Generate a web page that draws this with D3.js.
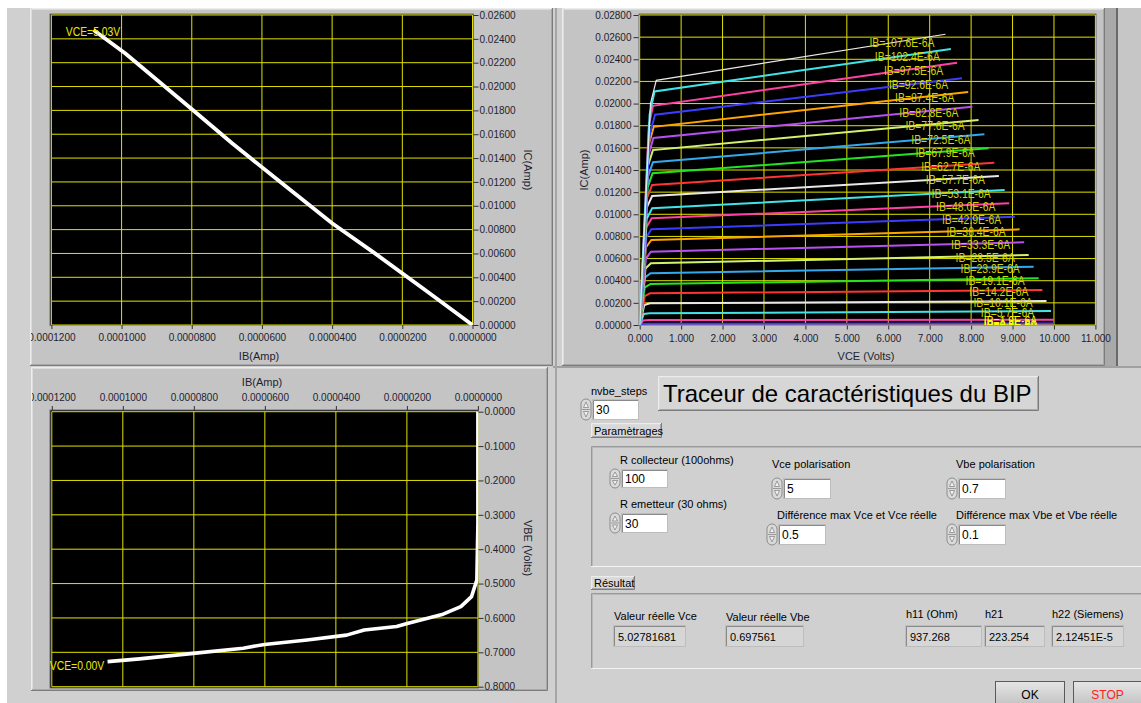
<!DOCTYPE html>
<html>
<head>
<meta charset="utf-8">
<title>Traceur de caractéristiques du BIP</title>
<script src="https://cdn.jsdelivr.net/npm/d3@7"></script>
<style>
  body { margin: 0; background: #ffffff; }
  svg text { font-family: "Liberation Sans", Arial, sans-serif; }
</style>
</head>
<body>
<svg id="panel" width="1141" height="703"></svg>
<script>
// IC = f(IB) at VCE = 5.03 V (top left graph)
const icIbIB = [0.000108, 0.0000990, 0.0000797, 0.0000685, 0.0000543, 0.0000400, 0.0000278, 0.0000135, 0];
const icIbIC = [0.02474, 0.02279, 0.01803, 0.01524, 0.01188, 0.00853, 0.00601, 0.00294, 0];

// VBE = f(IB) at VCE = 0.00 V (bottom left graph)
const vbeIB = [0.0001043, 0.0000953, 0.0000802, 0.0000661, 0.0000601, 0.0000481, 0.0000370, 0.0000320,
               0.0000229, 0.0000199, 0.0000098, 0.0000048, 0.0000018, 0.0000003, 0, 0];
const vbeV = [0.727, 0.719, 0.703, 0.688, 0.677, 0.664, 0.650, 0.635, 0.625, 0.616, 0.589, 0.567, 0.538, 0.490, 0.325, 0.0];

// IC = f(VCE) family, one curve per IB step (top right graph)
const ibLabels = ["107.6", "102.4", "97.5", "92.6", "87.4", "82.8", "77.6", "72.5", "67.9", "62.7", "57.7", "53.1",
                  "48.0", "42.9", "38.4", "33.3", "28.5", "23.9", "19.1", "14.2", "10.1", "5.7", "1.9", "0.6", "0.0"];
const riseVce = [0.26, 0.24, 0.22, 0.24, 0.22, 0.21, 0.20, 0.20, 0.19, 0.18, 0.17, 0.17, 0.16, 0.16, 0.15, 0.15,
                 0.14, 0.13, 0.12, 0.12, 0.11, 0.10, 0.08, 0.06, 0.05];
const riseIc = [0.0200, 0.0190, 0.0180, 0.0172, 0.0163, 0.0153, 0.0144, 0.0134, 0.0124, 0.0115, 0.0106, 0.0096,
                0.0088, 0.0079, 0.0070, 0.0060, 0.0051, 0.0043, 0.0034, 0.0026, 0.0018, 0.0010, 0.0004, 0.0001, 0.00002];
const kneeVce = [0.40, 0.36, 0.32, 0.37, 0.34, 0.33, 0.32, 0.32, 0.31, 0.30, 0.30, 0.30, 0.29, 0.28, 0.28, 0.27,
                 0.27, 0.26, 0.26, 0.25, 0.25, 0.24, 0.22, 0.20, 0.20];
const kneeIc = [0.0221, 0.0211, 0.0198, 0.0190, 0.0179, 0.0169, 0.0158, 0.0147, 0.0137, 0.01265, 0.01165, 0.01054,
                0.00964, 0.00864, 0.00768, 0.00662, 0.00557, 0.00467, 0.00370, 0.00286, 0.00196, 0.00106, 0.00045, 0.00012, 0.00003];
const endVce = [7.38, 7.51, 7.66, 7.78, 7.93, 8.03, 8.18, 8.32, 8.42, 8.56, 8.67, 8.81, 8.92, 9.06, 9.17, 9.28,
                9.39, 9.51, 9.63, 9.72, 9.82, 9.93, 10.0, 10.0, 10.0];
const endIc = [0.02626, 0.02493, 0.02369, 0.02228, 0.02105, 0.01972, 0.01852, 0.01722, 0.01596, 0.01466, 0.01346, 0.01219,
               0.01099, 0.00978, 0.00864, 0.00747, 0.00632, 0.00527, 0.00422, 0.00316, 0.00217, 0.00126, 0.00048, 0.00013, 0.00003];
const plotColors = ["#e8e8e8", "#40e4e8", "#ff40a4", "#3c3cff", "#ffa400", "#b850f0", "#d4f070", "#34a8ec", "#22e422", "#ff3434"];

// tick values
const ibTicks = [0.00012, 0.0001, 0.00008, 0.00006, 0.00004, 0.00002, 0];
const icTicksLeft = [0, 0.002, 0.004, 0.006, 0.008, 0.01, 0.012, 0.014, 0.016, 0.018, 0.02, 0.022, 0.024, 0.026];
const icTicksRight = [0, 0.002, 0.004, 0.006, 0.008, 0.01, 0.012, 0.014, 0.016, 0.018, 0.02, 0.022, 0.024, 0.026, 0.028];
const vceTicks = [0, 1, 2, 3, 4, 5, 6, 7, 8, 9, 10, 11];
const vbeTicks = [0, 0.1, 0.2, 0.3, 0.4, 0.5, 0.6, 0.7, 0.8];

const gridColor = "#e2e200";
const labelYellow = "#d4d400";

const svg = d3.select("#panel");
const defs = svg.append("defs");

// front panel background
svg.append("rect").attr("width", 1141).attr("height", 703).attr("fill", "#d0d0d0");
svg.append("rect").attr("width", 1141).attr("height", 8).attr("fill", "#ffffff");
svg.append("rect").attr("width", 7).attr("height", 703).attr("fill", "#ffffff");

function raised(g, x, y, w, h, fill) {
  g.append("rect").attr("x", x).attr("y", y).attr("width", w).attr("height", h).attr("fill", fill);
  g.append("path").attr("d", `M${x + 0.5},${y + h} V${y + 0.5} H${x + w}`).attr("fill", "none").attr("stroke", "#ececec");
  g.append("path").attr("d", `M${x + 1.5},${y + h - 1} V${y + 1.5} H${x + w - 1}`).attr("fill", "none").attr("stroke", "#dcdcdc");
  g.append("path").attr("d", `M${x},${y + h - 0.5} H${x + w - 0.5} V${y}`).attr("fill", "none").attr("stroke", "#7c7c7c");
  g.append("path").attr("d", `M${x + 1},${y + h - 1.5} H${x + w - 1.5} V${y + 1}`).attr("fill", "none").attr("stroke", "#a8a8a8");
}

function sunken(g, x, y, w, h, fill) {
  g.append("rect").attr("x", x).attr("y", y).attr("width", w).attr("height", h).attr("fill", fill);
  g.append("path").attr("d", `M${x + 0.5},${y + h} V${y + 0.5} H${x + w}`).attr("fill", "none").attr("stroke", "#9a9a9a");
  g.append("path").attr("d", `M${x + 1.5},${y + h - 1} V${y + 1.5} H${x + w - 1}`).attr("fill", "none").attr("stroke", "#b8b8b8");
  g.append("path").attr("d", `M${x},${y + h - 0.5} H${x + w - 0.5} V${y}`).attr("fill", "none").attr("stroke", "#f4f4f4");
}

function clipRect(id, x, y, w, h) {
  defs.append("clipPath").attr("id", id).append("rect")
      .attr("x", x).attr("y", y).attr("width", w).attr("height", h);
  return `url(#${id})`;
}

function styleAxis(g) {
  g.select(".domain").remove();
  g.selectAll(".tick line").attr("stroke", "#303030");
  g.selectAll(".tick text").attr("fill", "#1e1e30").style("font-size", "10px")
      .style("font-family", "\"Liberation Sans\", Arial, sans-serif");
}

function grid(g, xs, ys, xTicks, yTicks) {
  g.selectAll(null).data(xTicks).enter().append("line")
      .attr("x1", d => xs(d)).attr("x2", d => xs(d))
      .attr("y1", ys.range()[0]).attr("y2", ys.range()[1])
      .attr("stroke", gridColor).attr("stroke-width", 1);
  g.selectAll(null).data(yTicks).enter().append("line")
      .attr("y1", d => ys(d)).attr("y2", d => ys(d))
      .attr("x1", d3.min(xs.range())).attr("x2", d3.max(xs.range()))
      .attr("stroke", gridColor).attr("stroke-width", 1);
}

function plotLabel(g, x, y, text, color) {
  g.append("text").attr("transform", `translate(${x},${y}) scale(0.8,1)`)
      .attr("text-anchor", "middle").attr("dy", "0.36em")
      .style("font-size", "13px").attr("fill", color).text(text);
}

// ---------------- top left graph : IC(IB) ----------------
raised(svg, 30, 8, 523, 358, "#c4c4c4");
const tl = svg.append("g").attr("clip-path", clipRect("clipTL", 31, 9, 521, 356));
const xTL = d3.scaleLinear().domain([0.00012, 0]).range([51.4, 472.5]);
const yTL = d3.scaleLinear().domain([0, 0.026]).range([325, 15]);
tl.append("rect").attr("x", 50).attr("y", 14).attr("width", 423.5).attr("height", 311.5)
    .attr("fill", "#000").attr("stroke", "#6c6c6c");
grid(tl, xTL, yTL, ibTicks, icTicksLeft);
const plotTL = tl.append("g").attr("clip-path", clipRect("clipTLp", 50, 14, 423.5, 311.5));
plotTL.append("path")
    .datum(d3.zip(icIbIB, icIbIC))
    .attr("fill", "none").attr("stroke", "#ffffff").attr("stroke-width", 3.8).attr("stroke-linejoin", "round")
    .attr("d", d3.line().x(d => xTL(d[0])).y(d => yTL(d[1])));
plotLabel(plotTL, 93, 31, "VCE=5.03V", "#eaea00");
tl.append("g").attr("transform", "translate(0,325)")
    .call(d3.axisBottom(xTL).tickValues(ibTicks).tickFormat(d3.format(".7f")).tickSize(4).tickPadding(5))
    .call(styleAxis);
tl.append("g").attr("transform", "translate(473.5,0)")
    .call(d3.axisRight(yTL).tickValues(icTicksLeft).tickFormat(d3.format(".5f")).tickSize(5).tickPadding(1))
    .call(styleAxis);
tl.append("text").attr("x", 259).attr("y", 360).attr("text-anchor", "middle")
    .style("font-size", "11px").attr("fill", "#1e1e30").text("IB(Amp)");
tl.append("text").attr("transform", "translate(524,170) rotate(90)").attr("text-anchor", "middle")
    .style("font-size", "11px").attr("fill", "#1e1e30").text("IC(Amp)");

// ---------------- bottom left graph : VBE(IB) ----------------
raised(svg, 31, 367, 517, 324, "#c4c4c4");
const bl = svg.append("g").attr("clip-path", clipRect("clipBL", 32, 368, 515, 322));
const xBL = d3.scaleLinear().domain([0.00012, 0]).range([51.8, 477.9]);
const yBL = d3.scaleLinear().domain([0, 0.8]).range([411.7, 686.7]);
bl.append("rect").attr("x", 50).attr("y", 410).attr("width", 428.5).attr("height", 278)
    .attr("fill", "#000").attr("stroke", "#6c6c6c");
grid(bl, xBL, yBL, ibTicks, vbeTicks);
const plotBL = bl.append("g").attr("clip-path", clipRect("clipBLp", 50, 410, 428.5, 278));
plotBL.append("path")
    .datum(d3.zip(vbeIB, vbeV))
    .attr("fill", "none").attr("stroke", "#ffffff").attr("stroke-width", 3.6).attr("stroke-linejoin", "round")
    .attr("d", d3.line().x(d => xBL(d[0])).y(d => yBL(d[1])));
plotLabel(plotBL, 77, 665, "VCE=0.00V", "#eaea00");
bl.append("g").attr("transform", "translate(0,410)")
    .call(d3.axisTop(xBL).tickValues(ibTicks).tickFormat(d3.format(".7f")).tickSize(4).tickPadding(5))
    .call(styleAxis);
bl.append("g").attr("transform", "translate(478.5,0)")
    .call(d3.axisRight(yBL).tickValues(vbeTicks).tickFormat(d3.format(".4f")).tickSize(5).tickPadding(1))
    .call(styleAxis);
bl.append("text").attr("x", 262).attr("y", 386).attr("text-anchor", "middle")
    .style("font-size", "11px").attr("fill", "#1e1e30").text("IB(Amp)");
bl.append("text").attr("transform", "translate(524,548) rotate(90)").attr("text-anchor", "middle")
    .style("font-size", "11px").attr("fill", "#1e1e30").text("VBE (Volts)");

// ---------------- top right graph : IC(VCE) family ----------------
raised(svg, 562, 8, 543, 358, "#c4c4c4");
svg.append("rect").attr("x", 1105).attr("y", 8).attr("width", 12).attr("height", 358).attr("fill", "#a9a9a9");
svg.append("rect").attr("x", 1116).attr("y", 8).attr("width", 2).attr("height", 358).attr("fill", "#6a6a6a");
svg.append("rect").attr("x", 1118).attr("y", 8).attr("width", 23).attr("height", 358).attr("fill", "#c6c6c6");
const tr = svg.append("g");
const xTR = d3.scaleLinear().domain([0, 11]).range([639.7, 1095.4]);
const yTR = d3.scaleLinear().domain([0, 0.028]).range([325, 15]);
tr.append("rect").attr("x", 639).attr("y", 14).attr("width", 457).attr("height", 311.5)
    .attr("fill", "#000").attr("stroke", "#6c6c6c");
grid(tr, xTR, yTR, vceTicks, icTicksRight);
const plotTR = tr.append("g").attr("clip-path", clipRect("clipTRp", 639.5, 14, 456.5, 311));
const curveLine = d3.line().x(d => xTR(d[0])).y(d => yTR(d[1]));
const curves = ibLabels.map((lbl, i) => ({
  label: "IB=" + lbl + "E-6A",
  color: plotColors[i % plotColors.length],
  pts: [[0, 0], [riseVce[i], riseIc[i]], [kneeVce[i], kneeIc[i]], [endVce[i], endIc[i]]]
}));
// draw from the lowest current up so the upper curves stay on top
curves.slice().reverse().forEach(c => {
  plotTR.append("path").datum(c.pts)
      .attr("fill", "none").attr("stroke", c.color)
      .attr("stroke-width", c === curves[0] ? 1.2 : 2)
      .attr("d", curveLine);
});
// the lowest labels pile up on each other, as in the original panel
curves.forEach((c, i) => {
  const v = endVce[i] - 1.05;
  const t = (v - kneeVce[i]) / (endVce[i] - kneeVce[i]);
  const ic = kneeIc[i] + t * (endIc[i] - kneeIc[i]);
  plotLabel(plotTR, xTR(v), yTR(ic) + 1, c.label, i >= 22 ? "#ffff00" : labelYellow);
});
tr.append("g").attr("transform", "translate(0,325.5)")
    .call(d3.axisBottom(xTR).tickValues(vceTicks).tickFormat(d3.format(".3f")).tickSize(4).tickPadding(5))
    .call(styleAxis);
tr.append("g").attr("transform", "translate(638.5,0)")
    .call(d3.axisLeft(yTR).tickValues(icTicksRight).tickFormat(d3.format(".5f")).tickSize(5).tickPadding(2))
    .call(styleAxis);
tr.append("text").attr("x", 866).attr("y", 360).attr("text-anchor", "middle")
    .style("font-size", "11px").attr("fill", "#1e1e30").text("VCE (Volts)");
tr.append("text").attr("transform", "translate(588,170) rotate(-90)").attr("text-anchor", "middle")
    .style("font-size", "11px").attr("fill", "#1e1e30").text("IC(Amp)");

// separator between the graphs and the controls
svg.append("rect").attr("x", 553).attr("y", 366).attr("width", 588).attr("height", 2).attr("fill", "#a0a0a0");
svg.append("rect").attr("x", 555).attr("y", 8).attr("width", 2).attr("height", 695).attr("fill", "#a6a6a6");

// ---------------- controls ----------------
const ui = svg.append("g");

function text(x, y, s, size, color) {
  ui.append("text").attr("x", x).attr("y", y).style("font-size", (size || 11) + "px")
      .attr("fill", color || "#000").text(s);
}

function spinner(x, y, h) {
  ui.append("rect").attr("x", x).attr("y", y).attr("width", 10).attr("height", h).attr("rx", 5)
      .attr("fill", "#dadada").attr("stroke", "#8c8c8c");
  const m = y + h / 2;
  ui.append("path").attr("d", `M${x + 2.5},${m - 2} L${x + 5},${y + 3} L${x + 7.5},${m - 2} Z`)
      .attr("fill", "#f2f2f2").attr("stroke", "#7a7a7a").attr("stroke-width", 0.7);
  ui.append("path").attr("d", `M${x + 2.5},${m + 2} L${x + 5},${y + h - 3} L${x + 7.5},${m + 2} Z`)
      .attr("fill", "#f2f2f2").attr("stroke", "#7a7a7a").attr("stroke-width", 0.7);
  ui.append("line").attr("x1", x + 1).attr("x2", x + 9).attr("y1", m).attr("y2", m).attr("stroke", "#9a9a9a");
}

function control(x, y, w, h, value) {
  spinner(x - 12, y - 1, h + 2);
  ui.append("rect").attr("x", x - 1).attr("y", y - 1).attr("width", w + 2).attr("height", h + 2).attr("fill", "#bdbdbd");
  ui.append("rect").attr("x", x).attr("y", y).attr("width", w).attr("height", h).attr("fill", "#ffffff");
  ui.append("path").attr("d", `M${x + 0.5},${y + h} V${y + 0.5} H${x + w}`).attr("fill", "none").attr("stroke", "#8a8a8a");
  text(x + 3, y + h / 2 + 4.5, value, 12);
}

function indicator(x, y, w, h, value) {
  ui.append("rect").attr("x", x - 1).attr("y", y - 1).attr("width", w + 2).attr("height", h + 2).attr("fill", "#bdbdbd");
  ui.append("rect").attr("x", x).attr("y", y).attr("width", w).attr("height", h).attr("fill", "#d6d6d6");
  ui.append("path").attr("d", `M${x + 0.5},${y + h} V${y + 0.5} H${x + w}`).attr("fill", "none").attr("stroke", "#8a8a8a");
  text(x + 4, y + h / 2 + 4.5, value, 11);
}

function tab(x, y, w, h, s) {
  raised(ui, x, y, w, h, "#d8d8d8");
  text(x + 3, y + h / 2 + 4, s, 11);
}

text(591, 395, "nvbe_steps", 11);
control(593, 400, 45, 19, "30");

raised(ui, 658, 376, 381, 35, "#d6d6d6");
text(663, 402, "Traceur de caractéristiques du BIP", 24);

tab(591, 423, 71, 15, "Paramètrages");
sunken(ui, 591, 446, 552, 121, "#d0d0d0");

text(620, 464, "R collecteur (100ohms)", 11);
control(622, 470, 45, 17, "100");
text(620, 508, "R emetteur (30 ohms)", 11);
control(622, 514, 45, 18, "30");

text(772, 468, "Vce polarisation", 11);
control(784, 479, 46, 19, "5");
text(777, 519, "Différence max Vce et Vce réelle", 11);
control(779, 525, 46, 19, "0.5");

text(956, 468, "Vbe polarisation", 11);
control(959, 479, 46, 19, "0.7");
text(956, 519, "Différence max Vbe et Vbe réelle", 11);
control(959, 525, 46, 19, "0.1");

tab(591, 576, 44, 14, "Résultat");
sunken(ui, 591, 593, 552, 76, "#d0d0d0");

text(614, 620, "Valeur réelle Vce", 11);
indicator(614, 626, 71, 20, "5.02781681");
text(726, 621, "Valeur réelle Vbe", 11);
indicator(726, 626, 77, 20, "0.697561");
text(906, 618, "h11 (Ohm)", 11);
indicator(906, 626, 75, 20, "937.268");
text(985, 618, "h21", 11);
indicator(985, 626, 59, 20, "223.254");
text(1052, 618, "h22 (Siemens)", 11);
indicator(1052, 626, 71, 20, "2.12451E-5");

// buttons
function button(x, y, w, h, s, color) {
  const id = "btn" + s;
  const grad = defs.append("linearGradient").attr("id", id).attr("x1", 0).attr("y1", 0).attr("x2", 0).attr("y2", 1);
  grad.append("stop").attr("offset", 0).attr("stop-color", "#e6e6e6");
  grad.append("stop").attr("offset", 1).attr("stop-color", "#c2c2c2");
  ui.append("rect").attr("x", x).attr("y", y).attr("width", w).attr("height", h)
      .attr("fill", `url(#${id})`).attr("stroke", "#5a5a5a");
  ui.append("text").attr("x", x + w / 2).attr("y", y + h / 2 + 5).attr("text-anchor", "middle")
      .style("font-size", "12px").attr("fill", color).text(s);
}
button(995.5, 681.5, 69, 24, "OK", "#000");
button(1073.5, 681.5, 68, 24, "STOP", "#ff2020");
</script>
</body>
</html>
